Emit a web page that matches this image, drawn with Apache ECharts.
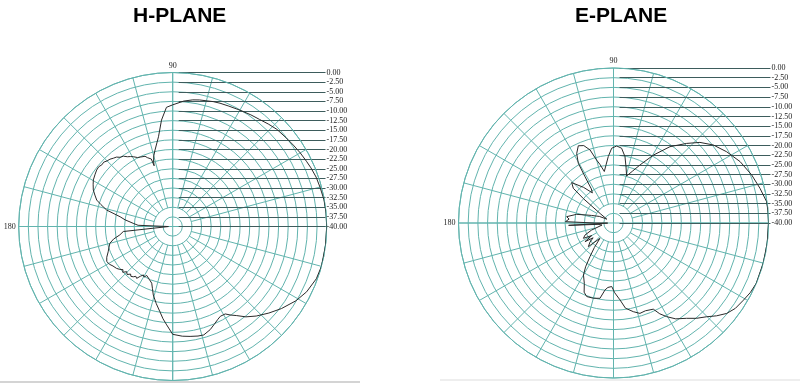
<!DOCTYPE html>
<html>
<head>
<meta charset="utf-8">
<script src="https://cdn.jsdelivr.net/npm/echarts@6/dist/echarts.min.js"></script>
<style>
html,body{margin:0;padding:0;background:#fff;}
#c{width:800px;height:389px;}
</style>
</head>
<body>
<div id="c"></div>
<script>
// Titles
var titles = ['H-PLANE', 'E-PLANE'];
// Radial scale (dB) and tick labels
var dbMin = -40, dbMax = 0, dbStep = 2.5;
var angleLabelsShown = [90, 180];

// H-plane pattern: angles (deg) and gain (dB)
var hAngles = [0,5,10,15,19,23,26,30,34,38,43,47,51,55,60,65,69,72,75,78,81,85,88,90,93,96,99,103,105,106.3,107,107.6,108.4,110,111.5,113,115,117,119.4,121,123,125,127.3,129,131,133,135,137,139,141,143.4,146,149.6,152,155.3,158,160.8,163,166,169.5,172,175.4,178,180.5,185.8,189,192,195,198,201.4,205,208,211,213.5,216.7,219,221,222.5,224.5,226.5,228.5,230,231.9,233.5,235.2,237,238.8,240.5,242,244,246,248,249.7,252,254.2,258,261.5,264,266.5,270,275,279,283,286,290,293,296,298,301,303,305.7,309,313,318,323,329,334,340,345,353,360];
var hGain = [0,0,-0.1,-0.4,-0.6,-1.0,-1.35,-1.75,-2.2,-2.6,-3.0,-3.6,-4.2,-4.6,-5.1,-5.5,-5.7,-5.9,-6.2,-6.4,-6.7,-7.3,-8.0,-8.4,-9.0,-12.2,-16.4,-19.6,-21.0,-22.3,-23.5,-21.6,-21.3,-21.0,-20.4,-20.6,-20.1,-19.9,-19.2,-18.8,-18.4,-17.7,-17.4,-16.8,-16.5,-16.1,-15.9,-15.5,-15.6,-15.3,-15.4,-15.7,-16.1,-16.6,-17.3,-18.2,-19.1,-20.5,-22.3,-26.1,-27.5,-29.7,-31.0,-38.9,-27.1,-26.1,-24.3,-23.1,-22.6,-22.0,-21.1,-20.6,-20.9,-21.4,-21.8,-22.3,-22.9,-22.4,-23.25,-22.8,-23.5,-23.1,-23.4,-23.9,-23.6,-24.6,-25.3,-24.9,-25.6,-25.5,-25.0,-24.8,-24.3,-23.0,-21.5,-19.5,-17.6,-15.9,-14.4,-12.0,-11.4,-11.1,-10.8,-10.7,-11.5,-12.4,-13.2,-13.6,-13.5,-12.6,-11.5,-9.8,-8.2,-6.4,-4.6,-2.6,-1.3,-0.3,0,0,0];

// E-plane pattern: angles (deg) and gain (dB)
var eAngles = [0,4,7.9,13.3,19.2,25.9,32.2,38,43,47.4,53.5,59.6,65.4,70,74.4,77.5,80.2,83.8,87.6,91.4,94.5,97.5,100.1,103,105,107.8,111,114.5,117.9,120.5,121.6,123,125,130,136,139.2,141,145,150,155,161,163.4,166.8,172.3,175,178.4,180,181,183,185,190,198,203,207,210,213.2,216,219,223.2,226,228.6,232,235,237.5,240,244.2,247,250,255,259.8,262.8,265,268.4,271,274.8,278,282.6,286.3,290,294.8,297,299.6,303,307.5,311,314.8,318,321.4,325,329.3,333,337.1,345,352.6,360];
var eGain = [0,0,-0.1,-1.15,-2.25,-3.7,-5.5,-7.3,-9.5,-12.1,-15.5,-19.7,-23.5,-25.8,-27.4,-25.1,-22.6,-20.6,-20.1,-20.7,-22.8,-25.0,-26.5,-24.5,-23.2,-20.2,-18.6,-18.1,-19.7,-22.1,-26.0,-29.5,-30.5,-28.0,-25.0,-26.3,-30.0,-36.0,-38.0,-36.0,-34.0,-32.8,-30.2,-27.8,-28.5,-27.6,-35.0,-38.5,-28.4,-36.0,-37.0,-34.0,-32.0,-31.3,-33.5,-31.2,-33.5,-32.2,-31.1,-33.5,-34.7,-32.0,-29.4,-26.6,-24.5,-22.7,-20.6,-19.8,-19.9,-20.25,-22.6,-23.3,-23.6,-22.0,-20.1,-17.8,-16.55,-15.7,-15.9,-15.5,-13.7,-12.2,-10.5,-9.0,-7.4,-5.9,-4.2,-2.6,-1.6,-1.0,-0.4,0,0,0,0];

function pairs(ang, g){ return ang.map(function(a,i){ return [g[i], a]; }); }

var gridColor = '#62b4ae';
var leaderColor = '#3d5c5c';
var serif = '"Liberation Serif","DejaVu Serif",serif';

var plots = [
  {cx:172.7, cy:226.5, R:154, labelX:325.5, data:pairs(hAngles,hGain), tx:128},
  {cx:613.5, cy:223, R:155, labelX:770.5, data:pairs(eAngles,eGain), tx:570}
];

var polars = [], angleAxes = [], radiusAxes = [];
plots.forEach(function(p, i){
  // main polar: rings + cardinal axes + pattern
  polars.push({center:[p.cx,p.cy], radius:p.R});
  angleAxes.push({polarIndex:2*i, type:'value', min:0, max:360, interval:90, startAngle:0, clockwise:false,
    axisLine:{lineStyle:{color:gridColor,width:1}},
    axisTick:{show:false},
    axisLabel:{margin:3, fontSize:8, fontFamily:serif, color:'#222',
      formatter:function(v){ return angleLabelsShown.indexOf(v)>=0 ? String(v) : ''; }},
    splitLine:{show:true, lineStyle:{color:gridColor,width:1}}});
  radiusAxes.push({polarIndex:2*i, type:'value', min:dbMin, max:dbMax, interval:dbStep,
    axisLine:{show:false}, axisTick:{show:false}, axisLabel:{show:false},
    splitLine:{show:true, lineStyle:{color:gridColor,width:1}}});
  // spokes polar: 15-degree spokes starting away from the centre
  polars.push({center:[p.cx,p.cy], radius:[p.R*2/16, p.R]});
  angleAxes.push({polarIndex:2*i+1, type:'value', min:0, max:360, interval:15, startAngle:0, clockwise:false,
    axisLine:{show:false}, axisTick:{show:false}, axisLabel:{show:false},
    splitLine:{show:true, lineStyle:{color:gridColor,width:1}}});
  radiusAxes.push({polarIndex:2*i+1, type:'value', min:0, max:1,
    axisLine:{show:false}, axisTick:{show:false}, axisLabel:{show:false}, splitLine:{show:false}});
});

var option = {
  animation:false,
  backgroundColor:'#fff',
  title: plots.map(function(p,i){
    return {text:titles[i], left:p.tx, top:1,
      textStyle:{fontFamily:'"Liberation Sans",Arial,sans-serif', fontWeight:'bold', fontSize:21, color:'#000'}};
  }),
  polar: polars,
  angleAxis: angleAxes,
  radiusAxis: radiusAxes,
  grid: plots.map(function(p){
    return {left:p.cx+6, top:p.cy-p.R, height:p.R, width:p.labelX-(p.cx+6)};
  }),
  xAxis: plots.map(function(p,i){ return {gridIndex:i, type:'value', min:0, max:1, show:false}; }),
  yAxis: plots.map(function(p,i){
    return {gridIndex:i, type:'value', min:dbMin, max:dbMax, interval:dbStep, position:'right',
      axisLine:{show:false}, axisTick:{show:false},
      axisLabel:{margin:1, fontSize:8, fontFamily:serif, color:'#222',
        formatter:function(v){ return v.toFixed(2); }},
      splitLine:{show:true, lineStyle:{color:leaderColor,width:1}}};
  }),
  graphic:[
    {type:'line', shape:{x1:0,y1:382,x2:360,y2:382}, style:{stroke:'#d4d4d4', lineWidth:2}, silent:true},
    {type:'line', shape:{x1:440,y1:380,x2:800,y2:380}, style:{stroke:'#eeeeee', lineWidth:2}, silent:true}
  ],
  series: plots.map(function(p,i){
    return {type:'line', coordinateSystem:'polar', polarIndex:2*i, data:p.data,
      showSymbol:false, symbol:'none', smooth:false, z:5,
      lineStyle:{color:'#2a2a2a', width:1}};
  })
};
var chart = echarts.init(document.getElementById('c'), null, {renderer:'canvas'});
chart.setOption(option);
</script>
</body>
</html>
